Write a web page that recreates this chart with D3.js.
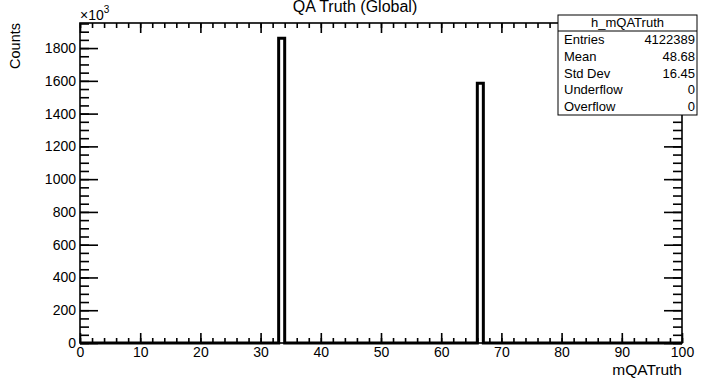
<!DOCTYPE html>
<html><head><meta charset="utf-8">
<script src="https://cdn.jsdelivr.net/npm/d3@7"></script>
<style>
html,body{margin:0;padding:0;background:#fff;}
svg text{font-family:"Liberation Sans",Arial,Helvetica,sans-serif;fill:#000;}
</style></head>
<body><svg id="c" width="701" height="381"></svg>
<script>
// ---- data ----
const chartTitle = "QA Truth (Global)";
const xTitle = "mQATruth";
const yTitle = "Counts";
const xRange = [0, 100];
const nBins = 100;
// non-empty bins: lower edge and content (x10^3 counts)
const binLowEdges = [33, 66];
const binCounts = [1860, 1585];
const yMajorTicks = [0, 200, 400, 600, 800, 1000, 1200, 1400, 1600, 1800];
const xMajorTicks = [0, 10, 20, 30, 40, 50, 60, 70, 80, 90, 100];
const statsName = "h_mQATruth";
const statsLabels = ["Entries", "Mean", "Std Dev", "Underflow", "Overflow"];
const statsValues = ["4122389", "48.68", "16.45", "0", "0"];

// ---- layout ----
const svg = d3.select("#c");
const L = 80, R = 682, T = 23, B = 343;
const yMax = d3.max(binCounts) * 1.05;
const x = d3.scaleLinear().domain(xRange).range([L, R]);
const y = d3.scaleLinear().domain([0, yMax]).range([B, T]);
const binW = (xRange[1] - xRange[0]) / nBins;

const xMinor = d3.range(xRange[0], xRange[1] + 1e-9, 2);
const yMinor = d3.range(0, yMax, 50);

function styleAxis(g){
  g.select(".domain").remove();
  g.selectAll("line").attr("stroke","#000").attr("stroke-width",1.6);
  g.selectAll("text").style("font-size","14px").attr("fill","#000");
}
// bottom axis
svg.append("g").attr("transform",`translate(0,${B})`)
  .call(d3.axisBottom(x).tickValues(xMinor).tickSize(-5).tickFormat(""))
  .call(styleAxis);
svg.append("g").attr("transform",`translate(0,${B})`)
  .call(d3.axisBottom(x).tickValues(xMajorTicks).tickSize(-10).tickPadding(4).tickFormat(d3.format("d")))
  .call(styleAxis)
  .call(g=>g.selectAll("text").attr("y",14).attr("dy","0"));
// top axis
svg.append("g").attr("transform",`translate(0,${T})`)
  .call(d3.axisTop(x).tickValues(xMinor).tickSize(-5).tickFormat("")).call(styleAxis);
svg.append("g").attr("transform",`translate(0,${T})`)
  .call(d3.axisTop(x).tickValues(xMajorTicks).tickSize(-10).tickFormat("")).call(styleAxis);
// left axis
svg.append("g").attr("transform",`translate(${L},0)`)
  .call(d3.axisLeft(y).tickValues(yMinor).tickSize(-9).tickFormat("")).call(styleAxis);
svg.append("g").attr("transform",`translate(${L},0)`)
  .call(d3.axisLeft(y).tickValues(yMajorTicks).tickSize(-18).tickPadding(4).tickFormat(d3.format("d")))
  .call(styleAxis);
// right axis
svg.append("g").attr("transform",`translate(${R},0)`)
  .call(d3.axisRight(y).tickValues(yMinor).tickSize(-9).tickFormat("")).call(styleAxis);
svg.append("g").attr("transform",`translate(${R},0)`)
  .call(d3.axisRight(y).tickValues(yMajorTicks).tickSize(-18).tickFormat("")).call(styleAxis);

// frame
svg.append("rect").attr("x",L).attr("y",T).attr("width",R-L).attr("height",B-T)
  .attr("fill","none").attr("stroke","#000").attr("stroke-width",1.6);

// histogram outline
const pts = [[xRange[0], 0]];
binLowEdges.forEach((lo,i)=>{
  pts.push([lo,0],[lo,binCounts[i]],[lo+binW,binCounts[i]],[lo+binW,0]);
});
pts.push([xRange[1],0]);
svg.append("path").datum(pts)
  .attr("d", d3.line().x(d=>x(d[0])).y(d=>y(d[1])))
  .attr("fill","none").attr("stroke","#000").attr("stroke-width",3)
  .attr("stroke-linejoin","miter");

// titles
svg.append("text").attr("x",355).attr("y",12).attr("text-anchor","middle")
  .style("font-size","16px").text(chartTitle);
svg.append("text").attr("x",R).attr("y",375).attr("text-anchor","end")
  .style("font-size","15.5px").text(xTitle);
svg.append("text").attr("transform",`translate(20,${T}) rotate(-90)`).attr("text-anchor","end")
  .style("font-size","14.5px").text(yTitle);
const ex = svg.append("text").attr("x",L).attr("y",20).style("font-size","14px");
ex.append("tspan").text("\u00d710");
ex.append("tspan").attr("dy",-7).style("font-size","10px").text("3");

// stats box
const sx0 = 558, sx1 = 697, sy0 = 15, sHead = 31, sy1 = 115;
const sb = svg.append("g");
sb.append("rect").attr("x",sx0).attr("y",sy0).attr("width",sx1-sx0).attr("height",sy1-sy0)
  .attr("fill","#fff").attr("stroke","#000").attr("stroke-width",1);
sb.append("line").attr("x1",sx0).attr("x2",sx1).attr("y1",sHead).attr("y2",sHead)
  .attr("stroke","#000").attr("stroke-width",1);
sb.append("text").attr("x",(sx0+sx1)/2).attr("y",sHead-4).attr("text-anchor","middle")
  .style("font-size","13px").text(statsName);
const rowH = (sy1 - sHead) / statsLabels.length;
statsLabels.forEach((lab,i)=>{
  const by = sHead + rowH*(i+0.5) + 4.5;
  sb.append("text").attr("x",sx0+6).attr("y",by).style("font-size","13px").text(lab);
  sb.append("text").attr("x",sx1-2).attr("y",by).attr("text-anchor","end").style("font-size","13px").text(statsValues[i]);
});
</script></body></html>
